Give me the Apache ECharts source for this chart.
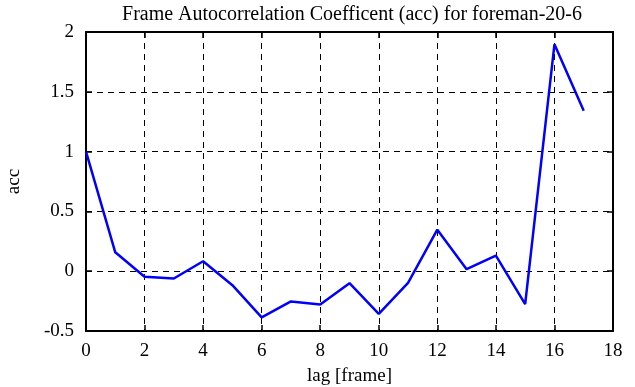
<!DOCTYPE html>
<html>
<head>
<meta charset="utf-8">
<script src="https://cdn.jsdelivr.net/npm/echarts@6/dist/echarts.min.js"></script>
<style>
  html, body { margin: 0; padding: 0; background: #fff; }
  #main { width: 635px; height: 387px; }
</style>
</head>
<body>
<div id="main"></div>
<script>
var lags = [0, 1, 2, 3, 4, 5, 6, 7, 8, 9, 10, 11, 12, 13, 14, 15, 16, 17];
var accValues = [1.0, 0.158, -0.047, -0.061, 0.083, -0.117, -0.386, -0.253, -0.278, -0.1,
                 -0.356, -0.097, 0.347, 0.017, 0.131, -0.275, 1.897, 1.342];

var FONT = '"Liberation Serif", "DejaVu Serif", serif';
var myChart = echarts.init(document.getElementById('main'));

var seriesData = [];
for (var i = 0; i < lags.length; i++) {
    seriesData.push([lags[i], accValues[i]]);
}

var dashed = { color: '#000', width: 1, type: [6, 5] };
var frameLine = { show: true, onZero: false, lineStyle: { color: '#000', width: 2 } };
var insideTick = { show: true, inside: true, length: 6, lineStyle: { color: '#000', width: 1.5 } };

var option = {
    backgroundColor: '#fff',
    animation: false,
    title: {
        text: 'Frame Autocorrelation Coefficent (acc) for foreman-20-6',
        left: 347,
        textAlign: 'center',
        top: 0,
        textStyle: { fontFamily: FONT, fontSize: 20, fontWeight: 'normal', color: '#000' }
    },
    grid: { left: 86, top: 32, width: 527, height: 299, outerBoundsMode: 'none', containLabel: false },
    xAxis: [{
        type: 'value',
        min: 0, max: 18, interval: 2,
        name: 'lag [frame]',
        nameLocation: 'middle',
        nameGap: 36,
        nameTextStyle: { fontFamily: FONT, fontSize: 19, color: '#000' },
        axisLine: frameLine,
        axisTick: insideTick,
        axisLabel: { fontFamily: FONT, fontSize: 19, color: '#000', margin: 11 },
        splitLine: { show: true, lineStyle: dashed }
    }, {
        type: 'value', position: 'top',
        min: 0, max: 18, interval: 2,
        axisLine: frameLine,
        axisTick: insideTick,
        axisLabel: { show: false },
        splitLine: { show: false }
    }],
    yAxis: [{
        type: 'value',
        min: -0.5, max: 2, interval: 0.5,
        name: 'acc',
        nameLocation: 'middle',
        nameGap: 62,
        nameTextStyle: { fontFamily: FONT, fontSize: 19, color: '#000' },
        axisLine: frameLine,
        axisTick: insideTick,
        axisLabel: { fontFamily: FONT, fontSize: 19, color: '#000', margin: 12 },
        splitLine: { show: true, lineStyle: dashed }
    }, {
        type: 'value', position: 'right',
        min: -0.5, max: 2, interval: 0.5,
        axisLine: frameLine,
        axisTick: insideTick,
        axisLabel: { show: false },
        splitLine: { show: false }
    }],
    series: [{
        name: 'acc',
        type: 'line',
        data: seriesData,
        showSymbol: false,
        lineStyle: { color: '#0000ff', width: 2.5 },
        z: 5
    }]
};

myChart.setOption(option);
</script>
</body>
</html>
